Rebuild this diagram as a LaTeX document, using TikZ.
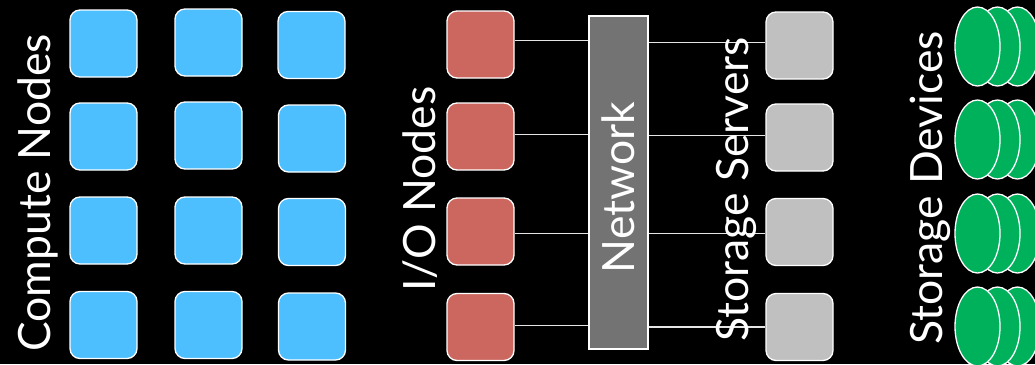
\documentclass[tikz,border=0pt]{standalone}
\usepackage{fontspec}
\setmainfont{Lato}
\usetikzlibrary{shapes.geometric}
\definecolor{computeblue}{HTML}{4DBFFF}
\definecolor{ionodered}{HTML}{CC6760}
\definecolor{servergray}{HTML}{C0C0C0}
\definecolor{netgray}{HTML}{737373}
\definecolor{diskgreen}{HTML}{00B15C}
\begin{document}
\begin{tikzpicture}[x=1pt,y=-1pt,
  box/.style={draw=white, line width=1.3pt, rounded corners=10pt,
    minimum width=67pt, minimum height=67pt, inner sep=0pt},
  compute/.style={box, fill=computeblue},
  ionode/.style={box, fill=ionodered},
  server/.style={box, fill=servergray},
  disk/.style={ellipse, draw=white, line width=1.3pt, fill=diskgreen,
    minimum width=45pt, minimum height=79pt, inner sep=0pt},
  link/.style={draw=white!90!black, line width=1.1pt},
  netbox/.style={draw=white, line width=1.3pt, fill=netgray, rotate=90,
    minimum width=333pt, minimum height=59pt, inner sep=0pt,
    text=white, font=\fontsize{44.5}{44.5}\selectfont},
  tag/.style={text=white, font=\fontsize{44.5}{44.5}\selectfont, rotate=90,
    anchor=base west, inner sep=0pt}]

% background
\fill[black] (0,0) rectangle (1035,364);
\useasboundingbox (0,0) rectangle (1035,364);

% compute nodes
\node[compute] (c11) at (103.5,43.5) {};
\node[compute] (c21) at (103.5,136.5) {};
\node[compute] (c31) at (103.5,230.5) {};
\node[compute] (c41) at (103.5,325) {};
\node[compute] (c12) at (208.5,42.5) {};
\node[compute] (c22) at (208.5,135.5) {};
\node[compute] (c32) at (208.5,230.5) {};
\node[compute] (c42) at (208.5,325) {};
\node[compute] (c13) at (311.5,45) {};
\node[compute] (c23) at (312,138.5) {};
\node[compute] (c33) at (312,232) {};
\node[compute] (c43) at (312,326.5) {};

% I/O nodes
\node[ionode] (io1) at (480.5,44.5) {};
\node[ionode] (io2) at (480.5,136.5) {};
\node[ionode] (io3) at (480.5,231.5) {};
\node[ionode] (io4) at (480.5,327) {};

% network
\node[netbox] (net) at (618.5,182.5) {\raisebox{0pt}{\hspace*{-10pt}Network}};

% storage servers
\node[server] (srv1) at (799.5,45.5) {};
\node[server] (srv2) at (799.5,137.5) {};
\node[server] (srv3) at (799.5,232) {};
\node[server] (srv4) at (799.5,327) {};

% links through the network
\draw[link] (io1.6) -- (io1.6 -| net.north);
\draw[link] (io2.4) -- (io2.4 -| net.north);
\draw[link] (io3.-3) -- (io3.-3 -| net.north);
\draw[link] (io4.2) -- (io4.2 -| net.north);
\draw[link] (net.south |- srv1.175) -- (srv1.175);
\draw[link] (net.south |- srv2.177) -- (srv2.177);
\draw[link] (net.south |- srv3.183) -- (srv3.183);
\draw[link] (net.south |- srv4.west) -- (srv4.west);

% storage devices: three stacked disks per row, back to front
\foreach \r/\y in {1/46.5,2/139.5,3/233.5,4/326.5}{
  \node[disk] (d\r c) at (1017.5,\y) {};
  \node[disk] (d\r b) at (997.5,\y) {};
  \node[disk] (d\r a) at (977.5,\y) {};
}

% column titles
\node[tag] (tcompute) at (50,352) {Compute Nodes};
\node[tag] (tio) at (435,292) {I/O Nodes};
\node[tag] (tsrv) at (748,342) {Storage Servers};
\node[tag] (tdev) at (942,345) {Storage Devices};
\end{tikzpicture}
\end{document}
